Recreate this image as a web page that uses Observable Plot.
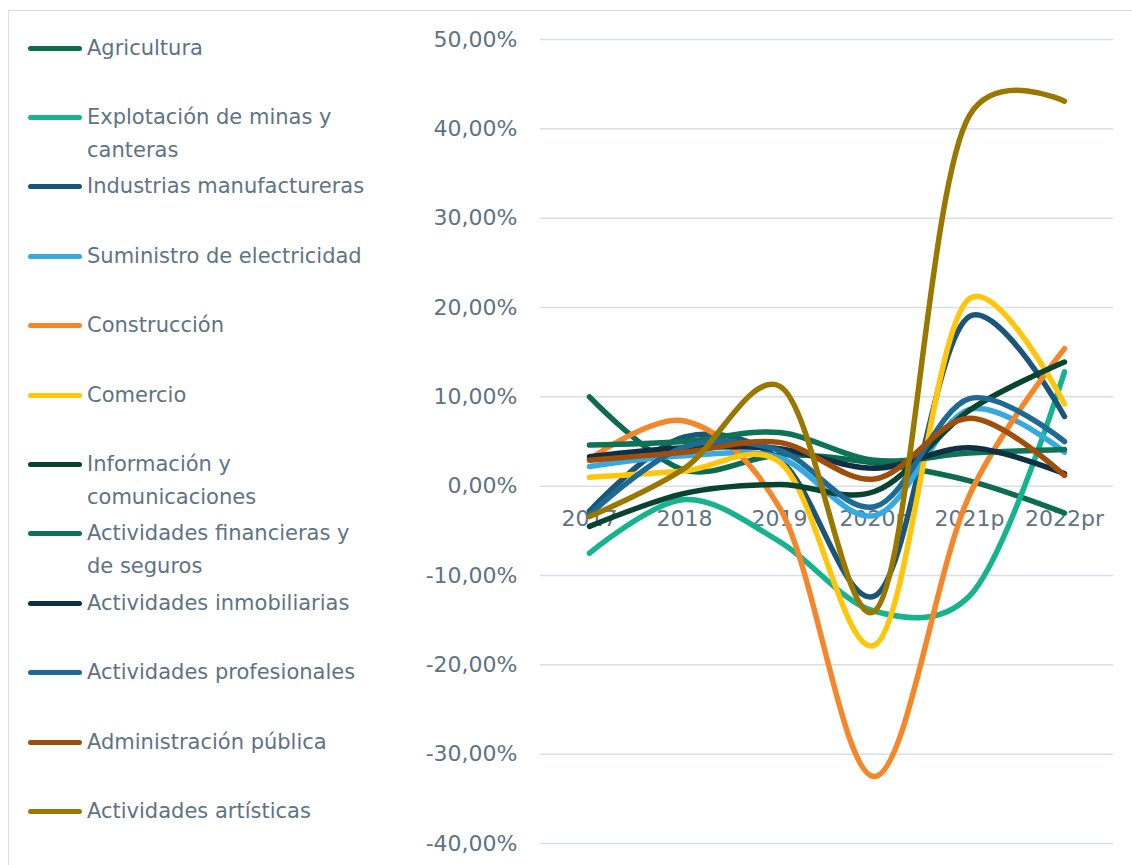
<!DOCTYPE html>
<html>
<head>
<meta charset="utf-8">
<script src="https://cdn.jsdelivr.net/npm/d3@7"></script>
<script src="https://cdn.jsdelivr.net/npm/@observablehq/plot@0.6"></script>
<style>
  html, body { margin: 0; padding: 0; background: #fff; }
  #wrap { position: relative; width: 1132px; height: 865px; overflow: hidden; font-family: "DejaVu Sans", sans-serif; }
  #frame { position: absolute; left: 8px; top: 10px; right: -4px; bottom: -4px; border-left: 1.5px solid #d9dde1; border-top: 1.5px solid #d9dde1; }
  #chart { position: absolute; left: 0; top: 0; }
  .item { position: absolute; left: 0; width: 400px; }
  .swatch { position: absolute; left: 28px; width: 54px; height: 5px; border-radius: 3px; }
  .lbl { position: absolute; left: 87px; width: 288px; font-size: 21px; line-height: 33px; color: #5e7384; }
</style>
</head>
<body>
<div id="wrap">
  <div id="frame"></div>
  <div id="chart"></div>
  <div id="legend"></div>
</div>
<script>
const years = ["2017", "2018", "2019", "2020p", "2021p", "2022pr"];
const sectors = [
  "Agricultura",
  "Explotación de minas y canteras",
  "Industrias manufactureras",
  "Suministro de electricidad",
  "Construcción",
  "Comercio",
  "Información y comunicaciones",
  "Actividades financieras y de seguros",
  "Actividades inmobiliarias",
  "Actividades profesionales",
  "Administración pública",
  "Actividades artísticas"
];
const colors = ["#0d6c4f", "#16b48e", "#1b5678", "#36a9e1", "#f5862a", "#ffc60b", "#08442f", "#0e7257", "#0f2f45", "#1d6a95", "#a04e0c", "#9a7800"];

const agricultura    = [10.0, 1.8, 3.5, 2.6, 0.6, -3.0];
const minas          = [-7.5, -1.5, -6.2, -14.0, -12.3, 12.8];
const manufactura    = [-2.8, 5.5, 3.0, -12.3, 19.0, 7.8];
const electricidad   = [2.2, 3.4, 3.2, -3.3, 8.6, 3.8];
const construccion   = [3.0, 7.3, -2.4, -32.5, -1.0, 15.4];
const comercio       = [1.0, 1.7, 2.7, -17.8, 21.0, 9.2];
const informacion    = [-4.5, -0.8, 0.2, -0.6, 8.5, 13.9];
const financieras    = [4.6, 5.0, 6.0, 2.9, 3.7, 4.1];
const inmobiliarias  = [3.3, 4.3, 4.2, 2.0, 4.3, 1.4];
const profesionales  = [-3.2, 4.4, 4.0, -2.3, 9.8, 5.0];
const administracion = [2.9, 3.8, 4.9, 0.8, 7.6, 1.2];
const artisticas     = [-3.4, 2.0, 11.2, -14.0, 41.5, 43.1];

const yTicks = [-40, -30, -20, -10, 0, 10, 20, 30, 40, 50];

const series = [agricultura, minas, manufactura, electricidad, construccion, comercio,
  informacion, financieras, inmobiliarias, profesionales, administracion, artisticas];

const rows = [];
series.forEach((vals, i) => vals.forEach((v, j) => rows.push({sector: sectors[i], year: years[j], value: v})));

const fmt = d => d.toFixed(2).replace(".", ",") + "%";
const grey = "#5e7384";

const chart = Plot.plot({
  width: 1132,
  height: 865,
  marginLeft: 540,
  marginRight: 19,
  marginTop: 39,
  marginBottom: 22,
  style: {fontFamily: "'DejaVu Sans', sans-serif", fontSize: "22px", color: grey, background: "transparent", overflow: "visible"},
  x: {type: "point", domain: years, padding: 0.5, axis: null},
  y: {domain: [-40, 50]},
  color: {domain: sectors, range: colors},
  marks: [
    Plot.ruleY(yTicks, {stroke: "#d9dee3", strokeWidth: 1.5}),
    Plot.axisY({ticks: yTicks, tickSize: 0, tickPadding: 23, tickFormat: fmt, label: null, fontSize: 22, fill: grey}),
    Plot.text(years, {x: d => d, y: () => 0, dy: 33, fontSize: 22, fill: grey}),
    Plot.line(rows, {x: "year", y: "value", z: "sector", stroke: "sector", curve: "catmull-rom", tension: 0.25,
      strokeWidth: 5.5, strokeLinecap: "round", strokeLinejoin: "round"})
  ]
});
document.getElementById("chart").appendChild(chart);

const legend = document.getElementById("legend");
sectors.forEach((s, i) => {
  const cy = 48 + i * 69.4;
  const item = document.createElement("div");
  item.className = "item";
  item.style.top = "0px";
  const sw = document.createElement("div");
  sw.className = "swatch";
  sw.style.top = (cy - 2.5) + "px";
  sw.style.background = colors[i];
  const lb = document.createElement("div");
  lb.className = "lbl";
  lb.style.top = (cy - 16.5) + "px";
  lb.textContent = s;
  item.appendChild(sw);
  item.appendChild(lb);
  legend.appendChild(item);
});
</script>
</body>
</html>
